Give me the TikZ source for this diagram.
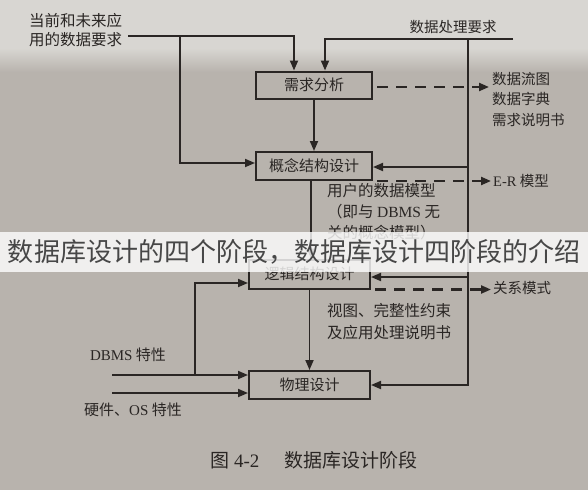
\documentclass[tikz,border=0pt]{standalone}
\usepackage{fontspec}
\setmainfont{Liberation Serif}
\newfontfamily\cjk{Noto Sans CJK SC}
\usetikzlibrary{arrows.meta,calc}
\newcommand\lat[1]{{\rmfamily #1}}
\definecolor{paper}{HTML}{B8B3AD}
\definecolor{paperlight}{HTML}{D8D6D2}
\definecolor{ink}{HTML}{2A2624}
\begin{document}
\begin{tikzpicture}[x=1pt,y=-1pt,
  box/.style={draw=ink,line width=2pt,minimum width=116pt,minimum height=27pt,inner sep=0pt,font=\cjk\fontsize{15}{18}\selectfont,text=ink},
  arr/.style={draw=ink,line width=1.8pt,-{Triangle[length=10pt,width=8pt]}},
  dasharr/.style={draw=ink,line width=2.2pt,dash pattern=on 11pt off 8pt,-{Triangle[length=10pt,width=8pt]}},
  lbl/.style={font=\cjk\fontsize{15}{20}\selectfont,text=ink,inner sep=2pt,align=left}]
\useasboundingbox (0,0) rectangle (588,490);
\fill[paper] (0,0) rectangle (588,490);
\fill[paperlight] (0,0) rectangle (588,48);
\shade[top color=paperlight,bottom color=paper] (0,48) rectangle (588,72);

% boxes
\node[box] (req) at (314,85) {需求分析};
\node[box,minimum height=28pt] (con) at (314,166) {概念结构设计};
\node[box,minimum width=121pt,minimum height=29pt] (log) at (309.5,274) {逻辑结构设计};
\node[box,minimum width=121pt,minimum height=28pt] (phy) at (309.5,385) {物理设计};

% top-left input
\node[lbl,anchor=north west,font=\cjk\fontsize{15.5}{19}\selectfont] (t1) at (27,11) {当前和未来应\\用的数据要求};
\coordinate (in1) at (128,36);
\coordinate (j1) at (180,36);
\draw[arr] (in1) -| ($(req.north)+(-20,0)$);
\draw[arr] (j1) |- ($(con.west)+(0,-3)$);

% top-right input
\node[lbl,font=\cjk\fontsize{14.5}{18}\selectfont] (t2) at (453,27) {数据处理要求};
\coordinate (in2) at (513,39);
\coordinate (j2) at (468,39);
\draw[arr] (in2) -| ($(req.north)+(11,0)$);
\draw[arr] (j2) |- (phy.east);
\draw[arr] ($(j2|-con.east)+(0,1)$) -- ($(con.east)+(0,1)$);
\draw[arr] ($(j2|-log.east)+(0,3)$) -- ($(log.east)+(0,3)$);

% outputs
\node[lbl,anchor=north west,font=\cjk\fontsize{14.5}{20.5}\selectfont] (o1) at (490,70) {数据流图\\数据字典\\需求说明书};
\draw[dasharr] ($(req.east)+(4,2)$) -- ($(req.east -| o1.west)+(-1,2)$);
\node[lbl,anchor=west,font=\cjk\fontsize{14.5}{18}\selectfont] (o2) at (491,181) {\lat{E-R} 模型};
\draw[dasharr] ($(con.south east)+(4,0)$) -- (con.south east -| o2.west);
\node[lbl,anchor=west,font=\cjk\fontsize{14.5}{18}\selectfont] (o3) at (491,288) {关系模式};
\draw[dasharr] ($(log.south east)+(4,0)$) -- (log.south east -| o3.west);

% vertical flow
\draw[arr] (req.south) -- (con.north);
\draw[arr] ($(con.south)+(-3,0)$) -- ($(log.north)+(1.5,0)$);
\draw[arr] (log.south) -- (phy.north);

% middle texts
\node[lbl,anchor=north west,font=\cjk\fontsize{15.5}{21}\selectfont] (m1) at (325,181) {用户的数据模型\\（即与 \lat{DBMS} 无\\关的概念模型）};
\node[lbl,anchor=north west,font=\cjk\fontsize{15.5}{22}\selectfont] (m2) at (325,301) {视图、完整性约束\\及应用处理说明书};

% bottom-left inputs
\node[lbl] (t3) at (128,355) {\lat{DBMS} 特性};
\coordinate (k1) at (112,375);
\coordinate (j3) at (195,375);
\draw[arr] (k1) -- (phy.west |- k1);
\draw[arr] (j3) |- ($(log.west)+(0,9)$);
\node[lbl] (t4) at (133,410) {硬件、\lat{OS} 特性};
\coordinate (k2) at (112,393);
\draw[arr] (k2) -- (phy.west |- k2);

% caption
\node[font=\cjk\fontsize{19}{22}\selectfont,text=ink] (cap) at (314,460) {图 \lat{4-2}\hspace{1.3em}数据库设计阶段};

% watermark banner
\fill[white,opacity=0.8] (0,232) rectangle (588,272);
\node[font=\cjk\fontsize{26}{30}\selectfont,text=black!72] (ban) at (294,252) {数据库设计的四个阶段，数据库设计四阶段的介绍};
\end{tikzpicture}
\end{document}
